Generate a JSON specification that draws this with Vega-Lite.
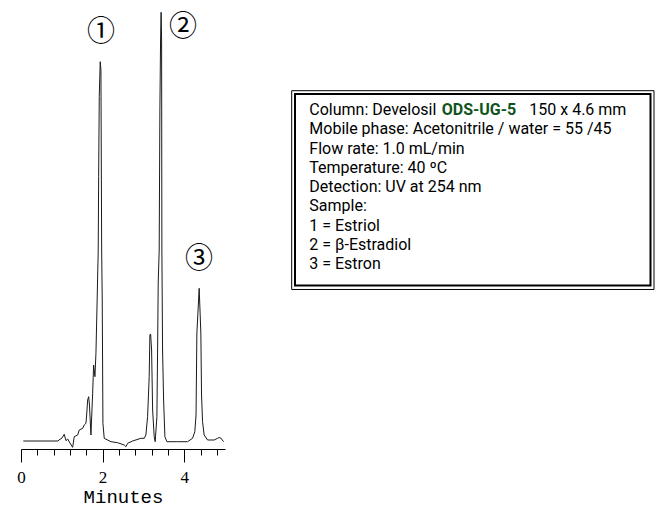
{
  "$schema": "https://vega.github.io/schema/vega-lite/v6.json",
  "background": "white",
  "padding": {"left": 16, "top": 0, "right": 0, "bottom": 4},
  "bounds": "flush",
  "spacing": 66,
  "config": {"view": {"stroke": null}},
  "datasets": {
    "trace": [
      {"t": 0.056, "s": 8}, {"t": 0.906, "s": 8}, {"t": 0.931, "s": 9}, {"t": 1.004, "s": 11},
      {"t": 1.060, "s": 14.7}, {"t": 1.102, "s": 8.3}, {"t": 1.144, "s": 10}, {"t": 1.200, "s": 6},
      {"t": 1.266, "s": 1.7}, {"t": 1.305, "s": 12.3}, {"t": 1.389, "s": 14}, {"t": 1.428, "s": 19},
      {"t": 1.511, "s": 20.7}, {"t": 1.550, "s": 24}, {"t": 1.592, "s": 25.7}, {"t": 1.609, "s": 34},
      {"t": 1.634, "s": 49}, {"t": 1.658, "s": 52.3}, {"t": 1.678, "s": 44}, {"t": 1.714, "s": 14},
      {"t": 1.756, "s": 55.7}, {"t": 1.780, "s": 84}, {"t": 1.812, "s": 72.3}, {"t": 1.837, "s": 95.7},
      {"t": 1.861, "s": 139}, {"t": 1.893, "s": 199}, {"t": 1.903, "s": 272.3}, {"t": 1.918, "s": 352.3},
      {"t": 1.942, "s": 387.3}, {"t": 1.959, "s": 379}, {"t": 1.977, "s": 199}, {"t": 1.991, "s": 149},
      {"t": 2.008, "s": 25.7}, {"t": 2.040, "s": 10.7}, {"t": 2.204, "s": 7.3}, {"t": 2.368, "s": 6.3},
      {"t": 2.530, "s": 4}, {"t": 2.572, "s": 2.3}, {"t": 2.613, "s": 5.7}, {"t": 2.736, "s": 8},
      {"t": 2.939, "s": 10.7}, {"t": 3.020, "s": 10.7}, {"t": 3.061, "s": 14}, {"t": 3.103, "s": 32.3},
      {"t": 3.142, "s": 72.3}, {"t": 3.159, "s": 114}, {"t": 3.177, "s": 115}, {"t": 3.201, "s": 99},
      {"t": 3.226, "s": 39}, {"t": 3.265, "s": 12.3}, {"t": 3.289, "s": 7.3}, {"t": 3.331, "s": 32.3},
      {"t": 3.348, "s": 99}, {"t": 3.363, "s": 166}, {"t": 3.387, "s": 199}, {"t": 3.404, "s": 339},
      {"t": 3.421, "s": 409}, {"t": 3.434, "s": 436.7}, {"t": 3.446, "s": 409}, {"t": 3.453, "s": 199},
      {"t": 3.470, "s": 99}, {"t": 3.495, "s": 49}, {"t": 3.527, "s": 12.3}, {"t": 3.576, "s": 7.3},
      {"t": 3.838, "s": 7.3}, {"t": 4.083, "s": 7.3}, {"t": 4.205, "s": 10.7}, {"t": 4.260, "s": 17.3},
      {"t": 4.290, "s": 34}, {"t": 4.311, "s": 116}, {"t": 4.367, "s": 160.7}, {"t": 4.408, "s": 116},
      {"t": 4.425, "s": 54}, {"t": 4.450, "s": 27.3}, {"t": 4.489, "s": 14}, {"t": 4.573, "s": 9},
      {"t": 4.734, "s": 9}, {"t": 4.818, "s": 10.7}, {"t": 4.857, "s": 11.5}, {"t": 4.898, "s": 11},
      {"t": 4.965, "s": 7.3}
    ],
    "peaks": [
      {"t": 1.959, "s": 416, "label": "①"},
      {"t": 3.97, "s": 421, "label": "②"},
      {"t": 4.36, "s": 189, "label": "③"}
    ],
    "info": [
      {"line": 1, "x": 18.3, "text": "Column: Develosil", "kind": "plain"},
      {"line": 1, "x": 150.7, "text": "ODS-UG-5", "kind": "bold"},
      {"line": 1, "x": 238.3, "text": "150 x 4.6 mm", "kind": "plain"},
      {"line": 2, "x": 18.3, "text": "Mobile phase: Acetonitrile / water = 55 /45", "kind": "plain"},
      {"line": 3, "x": 18.3, "text": "Flow rate: 1.0 mL/min", "kind": "plain"},
      {"line": 4, "x": 18.3, "text": "Temperature: 40 ºC", "kind": "plain"},
      {"line": 5, "x": 18.3, "text": "Detection: UV at 254 nm", "kind": "plain"},
      {"line": 6, "x": 18.3, "text": "Sample:", "kind": "plain"},
      {"line": 7, "x": 18.3, "text": "1 = Estriol", "kind": "plain"},
      {"line": 8, "x": 18.3, "text": "2 = β-Estradiol", "kind": "plain"},
      {"line": 9, "x": 18.3, "text": "3 = Estron", "kind": "plain"}
    ]
  },
  "hconcat": [
    {
      "width": 204,
      "height": 449,
      "layer": [
        {
          "data": {"name": "trace"},
          "mark": {"type": "line", "color": "#1a1a1a", "strokeWidth": 1},
          "encoding": {
            "x": {
              "field": "t", "type": "quantitative",
              "scale": {"domain": [0, 5], "nice": false, "zero": false},
              "axis": {
                "values": [0, 0.4, 0.8, 1.2, 1.6, 2, 2.4, 2.8, 3.2, 3.6, 4, 4.4, 4.8],
                "tickCount": 30,
                "format": "~g",
                "labelExpr": "datum.value == 0 || datum.value == 2 || datum.value == 4 ? datum.label : ''",
                "tickSize": {"condition": {"test": "datum.value == 0 || datum.value == 2 || datum.value == 4", "value": 13}, "value": 6},
                "grid": false,
                "domainColor": "#000",
                "domainWidth": 1,
                "tickColor": "#000",
                "tickWidth": 1,
                "labelFont": "Liberation Serif",
                "labelFontSize": 17,
                "labelColor": "#000",
                "labelFlush": false,
                "labelOverlap": false,
                "labelBound": false,
                "labelPadding": 7,
                "title": "Minutes",
                "titleFont": "Liberation Mono",
                "titleFontSize": 19,
                "titleFontWeight": "normal",
                "titleColor": "#000",
                "titlePadding": 2
              }
            },
            "y": {
              "field": "s", "type": "quantitative",
              "scale": {"domain": [0, 449], "nice": false},
              "axis": null
            }
          }
        },
        {
          "data": {"name": "peaks"},
          "mark": {"type": "text", "font": "Noto Sans CJK JP", "fontSize": 28, "color": "#000", "baseline": "middle", "align": "center"},
          "encoding": {
            "x": {"field": "t", "type": "quantitative"},
            "y": {"field": "s", "type": "quantitative"},
            "text": {"field": "label"}
          }
        }
      ]
    },
    {
      "width": 367,
      "height": 449,
      "layer": [
        {
          "data": {"name": "info"},
          "transform": [{"filter": "datum.kind == 'plain'"}],
          "mark": {"type": "text", "font": "Roboto", "fontSize": 16, "color": "#000", "align": "left", "baseline": "middle"},
          "encoding": {
            "x": {"field": "x", "type": "quantitative", "scale": {"domain": [0, 367], "nice": false, "zero": false}, "axis": null},
            "y": {"field": "line", "type": "quantitative", "scale": {"domain": [-4.699, 18.565], "reverse": true, "nice": false, "zero": false}, "axis": null},
            "text": {"field": "text"}
          }
        },
        {
          "data": {"name": "info"},
          "transform": [{"filter": "datum.kind == 'bold'"}],
          "mark": {"type": "text", "font": "Roboto", "fontSize": 16, "fontWeight": "bold", "color": "#0f5320", "align": "left", "baseline": "middle"},
          "encoding": {
            "x": {"field": "x", "type": "quantitative"},
            "y": {"field": "line", "type": "quantitative"},
            "text": {"field": "text"}
          }
        },
        {
          "data": {"values": [{}]},
          "mark": {"type": "rect", "fill": "transparent", "stroke": "#000", "strokeWidth": 1},
          "encoding": {
            "x": {"datum": 0.7, "type": "quantitative"},
            "x2": {"datum": 363},
            "y": {"datum": 0.0, "type": "quantitative"},
            "y2": {"datum": 10.3}
          }
        },
        {
          "data": {"values": [{}]},
          "mark": {"type": "rect", "fill": "transparent", "stroke": "#000", "strokeWidth": 2},
          "encoding": {
            "x": {"datum": 4, "type": "quantitative"},
            "x2": {"datum": 359.5},
            "y": {"datum": 0.171, "type": "quantitative"},
            "y2": {"datum": 10.094}
          }
        }
      ]
    }
  ]
}
